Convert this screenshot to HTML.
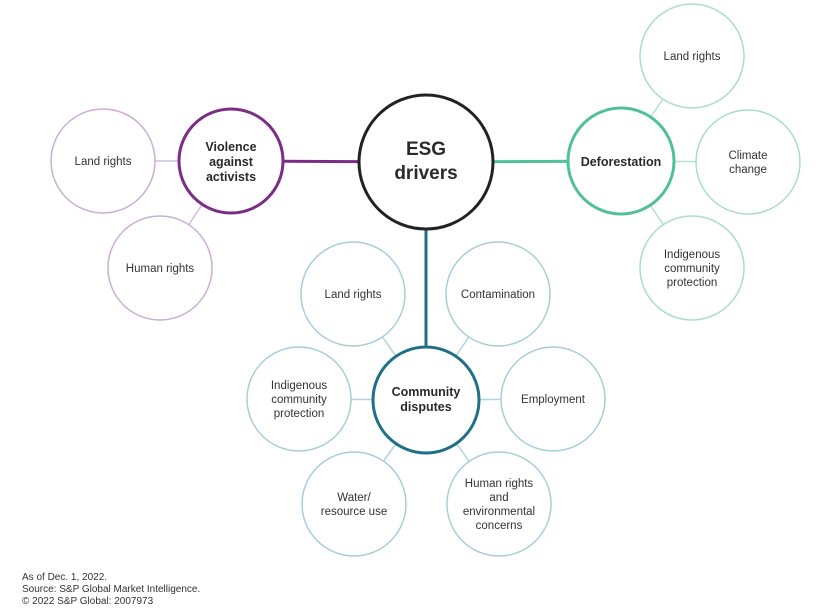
<!DOCTYPE html>
<html><head><meta charset="utf-8"><style>
body{margin:0;background:#fff}
svg{display:block;font-family:"Liberation Sans",Arial,sans-serif}
.t{font-size:11.5px;fill:#333;text-anchor:middle}
.b{font-size:12.5px;font-weight:bold;fill:#2a2a2a;text-anchor:middle}
</style></head><body>
<svg width="824" height="616" viewBox="0 0 824 616">
<!-- connectors -->
<g stroke-width="1.5">
<line x1="103" y1="161" x2="231" y2="161" stroke="#d3bddc"/>
<line x1="160" y1="268" x2="231" y2="161" stroke="#d3bddc"/>
<line x1="692" y1="56" x2="621" y2="161" stroke="#b5e2d2"/>
<line x1="748" y1="162" x2="621" y2="161" stroke="#b5e2d2"/>
<line x1="692" y1="268" x2="621" y2="161" stroke="#b5e2d2"/>
<line x1="353" y1="294" x2="426" y2="400" stroke="#b3d3dc"/>
<line x1="498" y1="294" x2="426" y2="400" stroke="#b3d3dc"/>
<line x1="299" y1="399" x2="426" y2="400" stroke="#b3d3dc"/>
<line x1="553" y1="399" x2="426" y2="400" stroke="#b3d3dc"/>
<line x1="354" y1="504" x2="426" y2="400" stroke="#b3d3dc"/>
<line x1="499" y1="504" x2="426" y2="400" stroke="#b3d3dc"/>
</g>
<g stroke-width="3">
<line x1="231" y1="161" x2="426" y2="162" stroke="#7b2d86"/>
<line x1="426" y1="162" x2="621" y2="161" stroke="#4fbf9c"/>
<line x1="426" y1="162" x2="426" y2="400" stroke="#1f6f88"/>
</g>
<!-- satellites -->
<g fill="#fff" stroke-width="1.5">
<circle cx="103" cy="161" r="52" stroke="#c9afd4"/>
<circle cx="160" cy="268" r="52" stroke="#c9afd4"/>
<circle cx="692" cy="56" r="52" stroke="#a9dcc9"/>
<circle cx="748" cy="162" r="52" stroke="#a9dcc9"/>
<circle cx="692" cy="268" r="52" stroke="#a9dcc9"/>
<circle cx="353" cy="294" r="52" stroke="#a9cdd6"/>
<circle cx="498" cy="294" r="52" stroke="#a9cdd6"/>
<circle cx="299" cy="399" r="52" stroke="#a9cdd6"/>
<circle cx="553" cy="399" r="52" stroke="#a9cdd6"/>
<circle cx="354" cy="504" r="52" stroke="#a9cdd6"/>
<circle cx="499" cy="504" r="52" stroke="#a9cdd6"/>
</g>
<g fill="#fff" stroke-width="3">
<circle cx="231" cy="161" r="52" stroke="#7b2d86"/>
<circle cx="621" cy="161" r="53" stroke="#4fbf9c"/>
<circle cx="426" cy="400" r="53" stroke="#1f6f88"/>
<circle cx="426" cy="162" r="67" stroke="#222"/>
</g>
<!-- text -->
<text class="b" x="426" y="155" style="font-size:19px">ESG</text>
<text class="b" x="426" y="179" style="font-size:19px">drivers</text>
<text class="b" x="231" y="151">Violence</text>
<text class="b" x="231" y="166">against</text>
<text class="b" x="231" y="181">activists</text>
<text class="b" x="621" y="166">Deforestation</text>
<text class="b" x="426" y="396">Community</text>
<text class="b" x="426" y="411">disputes</text>
<text class="t" x="103" y="165">Land rights</text>
<text class="t" x="160" y="272">Human rights</text>
<text class="t" x="692" y="60">Land rights</text>
<text class="t" x="748" y="159">Climate</text>
<text class="t" x="748" y="173">change</text>
<text class="t" x="692" y="258">Indigenous</text>
<text class="t" x="692" y="272">community</text>
<text class="t" x="692" y="286">protection</text>
<text class="t" x="353" y="298">Land rights</text>
<text class="t" x="498" y="298">Contamination</text>
<text class="t" x="299" y="389">Indigenous</text>
<text class="t" x="299" y="403">community</text>
<text class="t" x="299" y="417">protection</text>
<text class="t" x="553" y="403">Employment</text>
<text class="t" x="354" y="501">Water/</text>
<text class="t" x="354" y="515">resource use</text>
<text class="t" x="499" y="487">Human rights</text>
<text class="t" x="499" y="501">and</text>
<text class="t" x="499" y="515">environmental</text>
<text class="t" x="499" y="529">concerns</text>
<g style="font-size:10px;fill:#333">
<text x="22" y="580">As of Dec. 1, 2022.</text>
<text x="22" y="592">Source: S&amp;P Global Market Intelligence.</text>
<text x="22" y="604">© 2022 S&amp;P Global: 2007973</text>
</g>
</svg>
</body></html>
